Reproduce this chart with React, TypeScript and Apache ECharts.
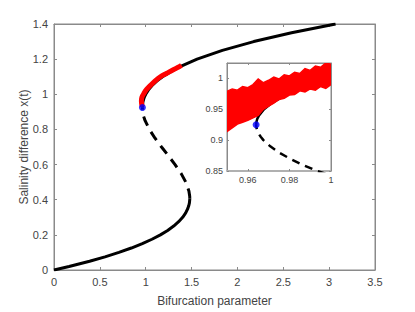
import React, { useEffect, useRef } from "react";
import * as echarts from "echarts";

// Bifurcation curve: parameter (p) and state (x)
const lowerX = [0, 0.02, 0.05, 0.075, 0.1, 0.125, 0.15, 0.175, 0.2, 0.225, 0.25, 0.275, 0.3, 0.325, 0.35, 0.365, 0.38, 0.39, 0.4, 0.4085];
const lowerP = [0, 0.164, 0.388, 0.556, 0.708, 0.843, 0.963, 1.068, 1.16, 1.239, 1.305, 1.359, 1.403, 1.436, 1.459, 1.469, 1.476, 1.478, 1.48, 1.4805];

const unstableX = [0.4085, 0.42, 0.45, 0.5, 0.55, 0.6, 0.65, 0.7, 0.75, 0.8, 0.85, 0.86, 0.87, 0.88, 0.89, 0.9, 0.905, 0.91, 0.915, 0.92, 0.9248];
const unstableP = [1.4805, 1.4797, 1.4709, 1.4375, 1.3853, 1.32, 1.2472, 1.1725, 1.1016, 1.04, 0.9934, 0.9864, 0.9803, 0.975, 0.9708, 0.9675, 0.9663, 0.9653, 0.9646, 0.9642, 0.964];

const upperX = [0.9248, 0.93, 0.935, 0.94, 0.95, 0.96, 0.97, 0.98, 0.99, 1.0, 1.025, 1.05, 1.075, 1.1, 1.15, 1.2, 1.25, 1.3, 1.35, 1.4];
const upperP = [0.964, 0.9642, 0.9646, 0.9654, 0.9678, 0.9715, 0.9766, 0.9829, 0.9907, 1.0, 1.0298, 1.0697, 1.1204, 1.1825, 1.3441, 1.56, 1.8359, 2.1775, 2.5903, 3.07];

// Part of the stable upper branch still visible (below the red cloud) in the inset
const insetUpperX = [0.9248, 0.93, 0.935, 0.94, 0.95, 0.96, 0.97, 0.974];
const insetUpperP = [0.964, 0.9642, 0.9646, 0.9654, 0.9678, 0.9715, 0.9766, 0.9789];

// Tipping point (blue marker)
const foldP = 0.964;
const foldX = 0.925;

// Red noisy trajectories, main panel (centre of the band)
const redMainP = [0.963, 0.956, 0.953, 0.955, 0.964, 0.98, 1.005, 1.05, 1.1, 1.16, 1.23, 1.3, 1.36, 1.39];
const redMainX = [0.93, 0.945, 0.96, 0.975, 0.99, 1.005, 1.025, 1.05, 1.075, 1.1, 1.12, 1.14, 1.155, 1.165];

// Red noisy trajectories, inset (upper and lower envelope)
const redEdgeP = [0.95, 0.9525, 0.955, 0.9575, 0.96, 0.9625, 0.965, 0.9675, 0.97, 0.9725, 0.975, 0.9775, 0.98, 0.9825, 0.985, 0.9875, 0.99, 0.9925, 0.995, 0.9975, 1.0];
const redUpperX = [0.979, 0.983, 0.981, 0.987, 0.985, 0.99, 0.999, 0.993, 0.997, 1.002, 0.999, 1.006, 1.004, 1.01, 1.008, 1.016, 1.013, 1.02, 1.018, 1.025, 1.023];
const redLowerX = [0.914, 0.92, 0.926, 0.929, 0.932, 0.936, 0.94, 0.95, 0.955, 0.96, 0.966, 0.968, 0.973, 0.974, 0.98, 0.978, 0.983, 0.981, 0.987, 0.984, 0.99];

// Axis ticks
const mainXTicks = { min: 0, max: 3.5, interval: 0.5 };
const mainYTicks = { min: 0, max: 1.4, interval: 0.2 };
const insetXTicks = [0.96, 0.98, 1];
const insetYTicks = [0.85, 0.9, 0.95, 1];
const insetXRange = [0.95, 1.0];
const insetYRange = [0.85, 1.025];

const pairs = (p: number[], x: number[]) => p.map((v, i) => [v, x[i]]);

const FONT = "Liberation Sans, Arial, Helvetica, sans-serif";
const AXIS = "#8a8a8a";
const LABEL = "#444444";

export default function App() {
  const ref = useRef<HTMLDivElement>(null);
  useEffect(() => {
    document.body.style.margin = "0";
    const chart = echarts.init(ref.current!, null, { renderer: "svg" });

    const axisBase = (extra: any) => ({
      type: "value",
      splitLine: { show: false },
      axisLine: { show: true, onZero: false, lineStyle: { color: AXIS, width: 1 } },
      axisTick: { show: true, inside: true, length: 3, lineStyle: { color: AXIS } },
      ...extra,
    });

    const option: any = {
      animation: false,
      backgroundColor: "#ffffff",
      grid: [
        { left: 54, right: 40, top: 24, bottom: 37, show: true, borderColor: AXIS, borderWidth: 1, backgroundColor: "transparent" },
        { left: 227, top: 63, width: 104, height: 108, show: true, backgroundColor: "#ffffff", borderColor: AXIS, borderWidth: 1 },
      ],
      xAxis: [
        axisBase({
          gridIndex: 0, position: "bottom", ...mainXTicks,
          axisLabel: { color: LABEL, fontSize: 11, margin: 6, fontFamily: FONT },
          name: "Bifurcation parameter", nameLocation: "middle", nameGap: 25, nameMoveOverlap: false,
          nameTextStyle: { color: LABEL, fontSize: 12, fontFamily: FONT },
        }),
        axisBase({ gridIndex: 0, position: "top", ...mainXTicks, axisLabel: { show: false } }),
        axisBase({
          gridIndex: 1, position: "bottom", min: insetXRange[0], max: insetXRange[1],
          axisLine: { show: true, onZero: false, lineStyle: { color: "#b0b0b0", width: 2 } },
          axisTick: { show: true, inside: true, length: 2, customValues: insetXTicks, lineStyle: { color: AXIS } },
          axisLabel: { color: LABEL, fontSize: 9, margin: 4, fontFamily: FONT, customValues: insetXTicks },
        }),
        axisBase({
          gridIndex: 1, position: "top", min: insetXRange[0], max: insetXRange[1],
          axisTick: { show: true, inside: true, length: 2, customValues: insetXTicks, lineStyle: { color: AXIS } },
          axisLabel: { show: false },
        }),
      ],
      yAxis: [
        axisBase({
          gridIndex: 0, position: "left", ...mainYTicks,
          axisLabel: { color: LABEL, fontSize: 11, margin: 6, fontFamily: FONT },
          name: "Salinity difference x(t)", nameLocation: "middle", nameGap: 24, nameRotate: 90, nameMoveOverlap: false,
          nameTextStyle: { color: LABEL, fontSize: 12, fontFamily: FONT },
        }),
        axisBase({ gridIndex: 0, position: "right", ...mainYTicks, axisLabel: { show: false } }),
        axisBase({
          gridIndex: 1, position: "left", min: insetYRange[0], max: insetYRange[1],
          axisTick: { show: true, inside: true, length: 2, customValues: insetYTicks, lineStyle: { color: AXIS } },
          axisLabel: { color: LABEL, fontSize: 9, margin: 4, fontFamily: FONT, customValues: insetYTicks },
        }),
        axisBase({
          gridIndex: 1, position: "right", min: insetYRange[0], max: insetYRange[1],
          axisTick: { show: true, inside: true, length: 2, customValues: insetYTicks, lineStyle: { color: AXIS } },
          axisLabel: { show: false },
        }),
      ],
      series: [
        // main panel
        { type: "line", xAxisIndex: 0, yAxisIndex: 0, data: pairs(lowerP, lowerX), showSymbol: false, z: 2,
          lineStyle: { color: "#000", width: 3 } },
        { type: "line", xAxisIndex: 0, yAxisIndex: 0, data: pairs(unstableP, unstableX), showSymbol: false, z: 2,
          lineStyle: { color: "#000", width: 3, type: [10, 7] } },
        { type: "line", xAxisIndex: 0, yAxisIndex: 0, data: pairs(upperP, upperX), showSymbol: false, z: 2,
          lineStyle: { color: "#000", width: 3 } },
        { type: "line", xAxisIndex: 0, yAxisIndex: 0, data: pairs(redMainP, redMainX), showSymbol: false, z: 3,
          smooth: 0.3, lineStyle: { color: "#ff0000", width: 5 } },
        { type: "scatter", xAxisIndex: 0, yAxisIndex: 0, data: [[foldP, foldX]], symbolSize: 7, z: 4,
          itemStyle: { color: "#0000ff" } },
        // inset
        { type: "line", xAxisIndex: 2, yAxisIndex: 2, data: pairs(insetUpperP, insetUpperX), showSymbol: false, z: 3,
          clip: true, lineStyle: { color: "#000", width: 2.5 } },
        { type: "line", xAxisIndex: 2, yAxisIndex: 2, data: pairs(unstableP, unstableX), showSymbol: false, z: 3,
          clip: true, lineStyle: { color: "#000", width: 2.5, type: [8, 6] } },
        {
          type: "custom", xAxisIndex: 2, yAxisIndex: 2, data: [[0.975, 0.98]], z: 6, clip: true, silent: true,
          renderItem: (_params: any, api: any) => {
            const pts: number[][] = [];
            for (let i = 0; i < redEdgeP.length; i++) pts.push(api.coord([redEdgeP[i], redUpperX[i]]));
            for (let i = redEdgeP.length - 1; i >= 0; i--) pts.push(api.coord([redEdgeP[i], redLowerX[i]]));
            return {
              type: "polygon",
              shape: { points: pts },
              style: { fill: "#ff0000", stroke: "#ff0000", lineWidth: 1.5 },
            };
          },
        },
        { type: "scatter", xAxisIndex: 2, yAxisIndex: 2, data: [[foldP, foldX]], symbolSize: 7, z: 7,
          itemStyle: { color: "#0000ff" } },
      ],
    };

    chart.setOption(option);
    return () => chart.dispose();
  }, []);
  return <div ref={ref} style={{ width: 415, height: 312 }} />;
}
